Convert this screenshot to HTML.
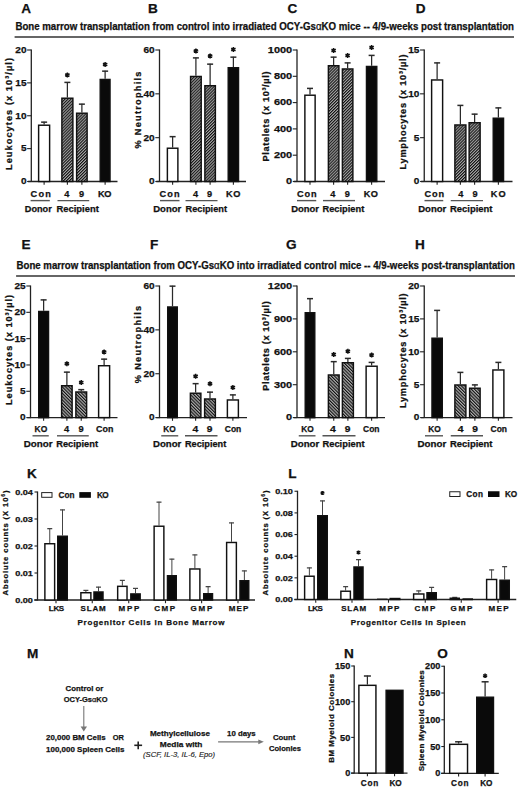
<!DOCTYPE html><html><head><meta charset="utf-8"><title>Figure</title><style>html,body{margin:0;padding:0;background:#fff;}svg{display:block;}text{font-family:"Liberation Sans", sans-serif;}</style></head><body>
<svg width="520" height="789" viewBox="0 0 520 789">
<defs><pattern id="h1" patternUnits="userSpaceOnUse" width="2.1" height="2.1" patternTransform="rotate(45)"><rect width="2.1" height="2.1" fill="#a8a8a8"/><rect width="1.05" height="2.1" fill="#111"/></pattern><pattern id="h2" patternUnits="userSpaceOnUse" width="2.3" height="2.3" patternTransform="rotate(-45)"><rect width="2.3" height="2.3" fill="#acacac"/><rect width="1.1" height="2.3" fill="#111"/></pattern></defs>
<rect width="520" height="789" fill="#fff"/>
<text x="21.2" y="13" font-size="13.6" font-weight="bold" fill="#111" stroke="#111" stroke-width="0.25">A</text>
<text x="148" y="13" font-size="13.6" font-weight="bold" fill="#111" stroke="#111" stroke-width="0.25">B</text>
<text x="287.5" y="13" font-size="13.6" font-weight="bold" fill="#111" stroke="#111" stroke-width="0.25">C</text>
<text x="415.8" y="13" font-size="13.6" font-weight="bold" fill="#111" stroke="#111" stroke-width="0.25">D</text>
<text x="21.5" y="249.2" font-size="13.6" font-weight="bold" fill="#111" stroke="#111" stroke-width="0.25">E</text>
<text x="150" y="249.2" font-size="13.6" font-weight="bold" fill="#111" stroke="#111" stroke-width="0.25">F</text>
<text x="286" y="249.2" font-size="13.6" font-weight="bold" fill="#111" stroke="#111" stroke-width="0.25">G</text>
<text x="415" y="249.2" font-size="13.6" font-weight="bold" fill="#111" stroke="#111" stroke-width="0.25">H</text>
<text x="27" y="478" font-size="13.6" font-weight="bold" fill="#111" stroke="#111" stroke-width="0.25">K</text>
<text x="288.3" y="478" font-size="13.6" font-weight="bold" fill="#111" stroke="#111" stroke-width="0.25">L</text>
<text x="27" y="658" font-size="13.6" font-weight="bold" fill="#111" stroke="#111" stroke-width="0.25">M</text>
<text x="344" y="657.7" font-size="13.6" font-weight="bold" fill="#111" stroke="#111" stroke-width="0.25">N</text>
<text x="437.2" y="657.8" font-size="13.6" font-weight="bold" fill="#111" stroke="#111" stroke-width="0.25">O</text>
<text x="15.4" y="30.1" font-size="10.1" font-weight="bold" fill="#111" textLength="498.6" lengthAdjust="spacingAndGlyphs" stroke="#111" stroke-width="0.25">Bone marrow transplantation from control into irradiated OCY-Gs<tspan font-weight="normal">α</tspan>KO mice -- 4/9-weeks post transplantation</text>
<line x1="14.6" y1="36.9" x2="514" y2="36.9" stroke="#333" stroke-width="1.5"/>
<text x="16.5" y="269" font-size="10.1" font-weight="bold" fill="#111" textLength="498.5" lengthAdjust="spacingAndGlyphs" stroke="#111" stroke-width="0.25">Bone marrow transplantation from OCY-Gs<tspan font-weight="normal">α</tspan>KO into irradiated control mice -- 4/9-weeks post-transplantation</text>
<line x1="16.1" y1="276" x2="515" y2="276" stroke="#333" stroke-width="1.5"/>
<line x1="31.3" y1="182" x2="31.3" y2="49.5" stroke="#222" stroke-width="1.3"/>
<line x1="27.1" y1="181.5" x2="31.3" y2="181.5" stroke="#222" stroke-width="1.1"/>
<text x="26.5" y="184.36" font-size="9.6" font-weight="bold" fill="#111" text-anchor="end" textLength="5.6" lengthAdjust="spacingAndGlyphs" stroke="#111" stroke-width="0.25">0</text>
<line x1="27.1" y1="148.62" x2="31.3" y2="148.62" stroke="#222" stroke-width="1.1"/>
<text x="26.5" y="151.48" font-size="9.6" font-weight="bold" fill="#111" text-anchor="end" textLength="5.6" lengthAdjust="spacingAndGlyphs" stroke="#111" stroke-width="0.25">5</text>
<line x1="27.1" y1="115.75" x2="31.3" y2="115.75" stroke="#222" stroke-width="1.1"/>
<text x="26.5" y="118.61" font-size="9.6" font-weight="bold" fill="#111" text-anchor="end" textLength="11.2" lengthAdjust="spacingAndGlyphs" stroke="#111" stroke-width="0.25">10</text>
<line x1="27.1" y1="82.88" x2="31.3" y2="82.88" stroke="#222" stroke-width="1.1"/>
<text x="26.5" y="85.73" font-size="9.6" font-weight="bold" fill="#111" text-anchor="end" textLength="11.2" lengthAdjust="spacingAndGlyphs" stroke="#111" stroke-width="0.25">15</text>
<line x1="27.1" y1="50" x2="31.3" y2="50" stroke="#222" stroke-width="1.1"/>
<text x="26.5" y="52.86" font-size="9.6" font-weight="bold" fill="#111" text-anchor="end" textLength="11.2" lengthAdjust="spacingAndGlyphs" stroke="#111" stroke-width="0.25">20</text>
<line x1="28.1" y1="181.5" x2="117.5" y2="181.5" stroke="#222" stroke-width="1.35"/>
<line x1="44.12" y1="181.5" x2="44.12" y2="184.7" stroke="#222" stroke-width="1.1"/>
<line x1="67.38" y1="181.5" x2="67.38" y2="184.7" stroke="#222" stroke-width="1.1"/>
<line x1="81.88" y1="181.5" x2="81.88" y2="184.7" stroke="#222" stroke-width="1.1"/>
<line x1="105.12" y1="181.5" x2="105.12" y2="184.7" stroke="#222" stroke-width="1.1"/>
<line x1="44.12" y1="124.5" x2="44.12" y2="121.75" stroke="#2a2a2a" stroke-width="1.25"/>
<line x1="41.12" y1="122.15" x2="47.12" y2="122.15" stroke="#2a2a2a" stroke-width="1.5"/>
<rect x="38.62" y="125.22" width="11" height="56.27" fill="#fff" stroke="#111" stroke-width="1.45"/>
<line x1="67.38" y1="97.5" x2="67.38" y2="82" stroke="#2a2a2a" stroke-width="1.25"/>
<line x1="64.38" y1="82.4" x2="70.38" y2="82.4" stroke="#2a2a2a" stroke-width="1.5"/>
<rect x="61.88" y="98.22" width="11" height="83.28" fill="url(#h1)" stroke="#111" stroke-width="1.45"/>
<path d="M67.38,72.5L67.38,77.5M65.21,73.75L69.54,76.25M65.21,76.25L69.54,73.75" stroke="#111" stroke-width="1.5" fill="none"/>
<line x1="81.88" y1="112.5" x2="81.88" y2="103.75" stroke="#2a2a2a" stroke-width="1.25"/>
<line x1="78.88" y1="104.15" x2="84.88" y2="104.15" stroke="#2a2a2a" stroke-width="1.5"/>
<rect x="76.62" y="113.22" width="10.5" height="68.28" fill="url(#h1)" stroke="#111" stroke-width="1.45"/>
<line x1="105.12" y1="78.75" x2="105.12" y2="70.75" stroke="#2a2a2a" stroke-width="1.25"/>
<line x1="102.12" y1="71.15" x2="108.12" y2="71.15" stroke="#2a2a2a" stroke-width="1.5"/>
<rect x="100.22" y="79.47" width="9.8" height="102.03" fill="#0a0a0a" stroke="#111" stroke-width="1.45"/>
<path d="M105.12,62L105.12,67M102.96,63.25L107.29,65.75M102.96,65.75L107.29,63.25" stroke="#111" stroke-width="1.5" fill="none"/>
<text x="40.7" y="196.6" font-size="9.2" font-weight="bold" fill="#111" text-anchor="middle" textLength="20.2" lengthAdjust="spacing" stroke="#111" stroke-width="0.25">Con</text>
<text x="66.7" y="196.6" font-size="9.2" font-weight="bold" fill="#111" text-anchor="middle" textLength="5.8" lengthAdjust="spacing" stroke="#111" stroke-width="0.25">4</text>
<text x="81.5" y="196.6" font-size="9.2" font-weight="bold" fill="#111" text-anchor="middle" textLength="5.7" lengthAdjust="spacing" stroke="#111" stroke-width="0.25">9</text>
<text x="104.7" y="196.6" font-size="9.2" font-weight="bold" fill="#111" text-anchor="middle" textLength="13.6" lengthAdjust="spacing" stroke="#111" stroke-width="0.25">KO</text>
<line x1="30.6" y1="200.6" x2="49.8" y2="200.6" stroke="#555" stroke-width="1.4"/>
<line x1="57.5" y1="200.6" x2="89.2" y2="200.6" stroke="#555" stroke-width="1.4"/>
<text x="24.8" y="211.7" font-size="9.2" font-weight="bold" fill="#111" textLength="26.9" lengthAdjust="spacingAndGlyphs" stroke="#111" stroke-width="0.25">Donor</text>
<text x="56.5" y="211.7" font-size="9.2" font-weight="bold" fill="#111" textLength="42.3" lengthAdjust="spacingAndGlyphs" stroke="#111" stroke-width="0.25">Recipient</text>
<text transform="translate(12.01,114) rotate(-90)" x="0" y="0" font-size="9.2" font-weight="bold" fill="#111" text-anchor="middle" stroke="#111" stroke-width="0.25" textLength="112" lengthAdjust="spacing">Leukocytes (x 10³/µl)</text>
<line x1="159.5" y1="182" x2="159.5" y2="49.5" stroke="#222" stroke-width="1.3"/>
<line x1="155.3" y1="181.5" x2="159.5" y2="181.5" stroke="#222" stroke-width="1.1"/>
<text x="154.7" y="184.36" font-size="9.6" font-weight="bold" fill="#111" text-anchor="end" textLength="5.6" lengthAdjust="spacingAndGlyphs" stroke="#111" stroke-width="0.25">0</text>
<line x1="155.3" y1="137.67" x2="159.5" y2="137.67" stroke="#222" stroke-width="1.1"/>
<text x="154.7" y="140.52" font-size="9.6" font-weight="bold" fill="#111" text-anchor="end" textLength="11.2" lengthAdjust="spacingAndGlyphs" stroke="#111" stroke-width="0.25">20</text>
<line x1="155.3" y1="93.83" x2="159.5" y2="93.83" stroke="#222" stroke-width="1.1"/>
<text x="154.7" y="96.69" font-size="9.6" font-weight="bold" fill="#111" text-anchor="end" textLength="11.2" lengthAdjust="spacingAndGlyphs" stroke="#111" stroke-width="0.25">40</text>
<line x1="155.3" y1="50" x2="159.5" y2="50" stroke="#222" stroke-width="1.1"/>
<text x="154.7" y="52.86" font-size="9.6" font-weight="bold" fill="#111" text-anchor="end" textLength="11.2" lengthAdjust="spacingAndGlyphs" stroke="#111" stroke-width="0.25">60</text>
<line x1="156.3" y1="181.5" x2="246" y2="181.5" stroke="#222" stroke-width="1.35"/>
<line x1="172.62" y1="181.5" x2="172.62" y2="184.7" stroke="#222" stroke-width="1.1"/>
<line x1="195.9" y1="181.5" x2="195.9" y2="184.7" stroke="#222" stroke-width="1.1"/>
<line x1="210.12" y1="181.5" x2="210.12" y2="184.7" stroke="#222" stroke-width="1.1"/>
<line x1="233.38" y1="181.5" x2="233.38" y2="184.7" stroke="#222" stroke-width="1.1"/>
<line x1="172.62" y1="147.5" x2="172.62" y2="136.25" stroke="#2a2a2a" stroke-width="1.25"/>
<line x1="169.62" y1="136.65" x2="175.62" y2="136.65" stroke="#2a2a2a" stroke-width="1.5"/>
<rect x="167.38" y="148.22" width="10.5" height="33.27" fill="#fff" stroke="#111" stroke-width="1.45"/>
<line x1="195.9" y1="75.75" x2="195.9" y2="57.5" stroke="#2a2a2a" stroke-width="1.25"/>
<line x1="192.9" y1="57.9" x2="198.9" y2="57.9" stroke="#2a2a2a" stroke-width="1.5"/>
<rect x="190.57" y="76.47" width="10.65" height="105.03" fill="url(#h1)" stroke="#111" stroke-width="1.45"/>
<path d="M195.9,48.5L195.9,53.5M193.73,49.75L198.07,52.25M193.73,52.25L198.07,49.75" stroke="#111" stroke-width="1.5" fill="none"/>
<line x1="210.12" y1="85" x2="210.12" y2="63.75" stroke="#2a2a2a" stroke-width="1.25"/>
<line x1="207.12" y1="64.15" x2="213.12" y2="64.15" stroke="#2a2a2a" stroke-width="1.5"/>
<rect x="204.88" y="85.72" width="10.5" height="95.78" fill="url(#h1)" stroke="#111" stroke-width="1.45"/>
<path d="M210.12,53.5L210.12,58.5M207.96,54.75L212.29,57.25M207.96,57.25L212.29,54.75" stroke="#111" stroke-width="1.5" fill="none"/>
<line x1="233.38" y1="67" x2="233.38" y2="56.75" stroke="#2a2a2a" stroke-width="1.25"/>
<line x1="230.38" y1="57.15" x2="236.38" y2="57.15" stroke="#2a2a2a" stroke-width="1.5"/>
<rect x="228.22" y="67.72" width="10.3" height="113.78" fill="#0a0a0a" stroke="#111" stroke-width="1.45"/>
<path d="M233.38,47L233.38,52M231.21,48.25L235.54,50.75M231.21,50.75L235.54,48.25" stroke="#111" stroke-width="1.5" fill="none"/>
<text x="169.5" y="196.6" font-size="9.2" font-weight="bold" fill="#111" text-anchor="middle" textLength="20" lengthAdjust="spacing" stroke="#111" stroke-width="0.25">Con</text>
<text x="195.5" y="196.6" font-size="9.2" font-weight="bold" fill="#111" text-anchor="middle" textLength="5.8" lengthAdjust="spacing" stroke="#111" stroke-width="0.25">4</text>
<text x="209.5" y="196.6" font-size="9.2" font-weight="bold" fill="#111" text-anchor="middle" textLength="5.7" lengthAdjust="spacing" stroke="#111" stroke-width="0.25">9</text>
<text x="233.3" y="196.6" font-size="9.2" font-weight="bold" fill="#111" text-anchor="middle" textLength="14.4" lengthAdjust="spacing" stroke="#111" stroke-width="0.25">KO</text>
<line x1="160" y1="200.6" x2="179.5" y2="200.6" stroke="#555" stroke-width="1.4"/>
<line x1="185.5" y1="200.6" x2="217.5" y2="200.6" stroke="#555" stroke-width="1.4"/>
<text x="153.25" y="211.7" font-size="9.2" font-weight="bold" fill="#111" textLength="28" lengthAdjust="spacingAndGlyphs" stroke="#111" stroke-width="0.25">Donor</text>
<text x="185.5" y="211.7" font-size="9.2" font-weight="bold" fill="#111" textLength="41.5" lengthAdjust="spacingAndGlyphs" stroke="#111" stroke-width="0.25">Recipient</text>
<text transform="translate(141.01,110) rotate(-90)" x="0" y="0" font-size="9.2" font-weight="bold" fill="#111" text-anchor="middle" stroke="#111" stroke-width="0.25" textLength="77" lengthAdjust="spacing">% Neutrophils</text>
<line x1="297" y1="182" x2="297" y2="49.5" stroke="#222" stroke-width="1.3"/>
<line x1="292.8" y1="181.5" x2="297" y2="181.5" stroke="#222" stroke-width="1.1"/>
<text x="292.2" y="184.36" font-size="9.6" font-weight="bold" fill="#111" text-anchor="end" textLength="6.1" lengthAdjust="spacingAndGlyphs" stroke="#111" stroke-width="0.25">0</text>
<line x1="292.8" y1="155.2" x2="297" y2="155.2" stroke="#222" stroke-width="1.1"/>
<text x="292.2" y="158.06" font-size="9.6" font-weight="bold" fill="#111" text-anchor="end" textLength="18.3" lengthAdjust="spacingAndGlyphs" stroke="#111" stroke-width="0.25">200</text>
<line x1="292.8" y1="128.9" x2="297" y2="128.9" stroke="#222" stroke-width="1.1"/>
<text x="292.2" y="131.76" font-size="9.6" font-weight="bold" fill="#111" text-anchor="end" textLength="18.3" lengthAdjust="spacingAndGlyphs" stroke="#111" stroke-width="0.25">400</text>
<line x1="292.8" y1="102.6" x2="297" y2="102.6" stroke="#222" stroke-width="1.1"/>
<text x="292.2" y="105.46" font-size="9.6" font-weight="bold" fill="#111" text-anchor="end" textLength="18.3" lengthAdjust="spacingAndGlyphs" stroke="#111" stroke-width="0.25">600</text>
<line x1="292.8" y1="76.3" x2="297" y2="76.3" stroke="#222" stroke-width="1.1"/>
<text x="292.2" y="79.16" font-size="9.6" font-weight="bold" fill="#111" text-anchor="end" textLength="18.3" lengthAdjust="spacingAndGlyphs" stroke="#111" stroke-width="0.25">800</text>
<line x1="292.8" y1="50" x2="297" y2="50" stroke="#222" stroke-width="1.1"/>
<text x="292.2" y="52.86" font-size="9.6" font-weight="bold" fill="#111" text-anchor="end" textLength="24.4" lengthAdjust="spacingAndGlyphs" stroke="#111" stroke-width="0.25">1000</text>
<line x1="293.8" y1="181.5" x2="385" y2="181.5" stroke="#222" stroke-width="1.35"/>
<line x1="310" y1="181.5" x2="310" y2="184.7" stroke="#222" stroke-width="1.1"/>
<line x1="333.62" y1="181.5" x2="333.62" y2="184.7" stroke="#222" stroke-width="1.1"/>
<line x1="347.62" y1="181.5" x2="347.62" y2="184.7" stroke="#222" stroke-width="1.1"/>
<line x1="371.62" y1="181.5" x2="371.62" y2="184.7" stroke="#222" stroke-width="1.1"/>
<line x1="310" y1="94.5" x2="310" y2="88" stroke="#2a2a2a" stroke-width="1.25"/>
<line x1="307" y1="88.4" x2="313" y2="88.4" stroke="#2a2a2a" stroke-width="1.5"/>
<rect x="304.88" y="95.22" width="10.25" height="86.28" fill="#fff" stroke="#111" stroke-width="1.45"/>
<line x1="333.62" y1="65" x2="333.62" y2="56.75" stroke="#2a2a2a" stroke-width="1.25"/>
<line x1="330.62" y1="57.15" x2="336.62" y2="57.15" stroke="#2a2a2a" stroke-width="1.5"/>
<rect x="328.38" y="65.72" width="10.5" height="115.78" fill="url(#h1)" stroke="#111" stroke-width="1.45"/>
<path d="M333.62,48L333.62,53M331.46,49.25L335.79,51.75M331.46,51.75L335.79,49.25" stroke="#111" stroke-width="1.5" fill="none"/>
<line x1="347.62" y1="68.25" x2="347.62" y2="62.5" stroke="#2a2a2a" stroke-width="1.25"/>
<line x1="344.62" y1="62.9" x2="350.62" y2="62.9" stroke="#2a2a2a" stroke-width="1.5"/>
<rect x="342.38" y="68.97" width="10.5" height="112.53" fill="url(#h1)" stroke="#111" stroke-width="1.45"/>
<path d="M347.62,53L347.62,58M345.46,54.25L349.79,56.75M345.46,56.75L349.79,54.25" stroke="#111" stroke-width="1.5" fill="none"/>
<line x1="371.62" y1="65.75" x2="371.62" y2="55" stroke="#2a2a2a" stroke-width="1.25"/>
<line x1="368.62" y1="55.4" x2="374.62" y2="55.4" stroke="#2a2a2a" stroke-width="1.5"/>
<rect x="366.48" y="66.47" width="10.3" height="115.03" fill="#0a0a0a" stroke="#111" stroke-width="1.45"/>
<path d="M371.62,45L371.62,50M369.46,46.25L373.79,48.75M369.46,48.75L373.79,46.25" stroke="#111" stroke-width="1.5" fill="none"/>
<text x="306.75" y="196.6" font-size="9.2" font-weight="bold" fill="#111" text-anchor="middle" textLength="19.5" lengthAdjust="spacing" stroke="#111" stroke-width="0.25">Con</text>
<text x="332.8" y="196.6" font-size="9.2" font-weight="bold" fill="#111" text-anchor="middle" textLength="5.2" lengthAdjust="spacing" stroke="#111" stroke-width="0.25">4</text>
<text x="347.4" y="196.6" font-size="9.2" font-weight="bold" fill="#111" text-anchor="middle" textLength="5.2" lengthAdjust="spacing" stroke="#111" stroke-width="0.25">9</text>
<text x="370.8" y="196.6" font-size="9.2" font-weight="bold" fill="#111" text-anchor="middle" textLength="14.2" lengthAdjust="spacing" stroke="#111" stroke-width="0.25">KO</text>
<line x1="297" y1="200.6" x2="316.25" y2="200.6" stroke="#555" stroke-width="1.4"/>
<line x1="323" y1="200.6" x2="355" y2="200.6" stroke="#555" stroke-width="1.4"/>
<text x="291.25" y="211.7" font-size="9.2" font-weight="bold" fill="#111" textLength="27.75" lengthAdjust="spacingAndGlyphs" stroke="#111" stroke-width="0.25">Donor</text>
<text x="322.5" y="211.7" font-size="9.2" font-weight="bold" fill="#111" textLength="41.75" lengthAdjust="spacingAndGlyphs" stroke="#111" stroke-width="0.25">Recipient</text>
<text transform="translate(268.71,116.5) rotate(-90)" x="0" y="0" font-size="9.2" font-weight="bold" fill="#111" text-anchor="middle" stroke="#111" stroke-width="0.25" textLength="90" lengthAdjust="spacing">Platelets (x 10³/µl)</text>
<line x1="424.25" y1="182" x2="424.25" y2="49.5" stroke="#222" stroke-width="1.3"/>
<line x1="420.05" y1="181.5" x2="424.25" y2="181.5" stroke="#222" stroke-width="1.1"/>
<text x="419.45" y="184.36" font-size="9.6" font-weight="bold" fill="#111" text-anchor="end" textLength="5.6" lengthAdjust="spacingAndGlyphs" stroke="#111" stroke-width="0.25">0</text>
<line x1="420.05" y1="137.67" x2="424.25" y2="137.67" stroke="#222" stroke-width="1.1"/>
<text x="419.45" y="140.52" font-size="9.6" font-weight="bold" fill="#111" text-anchor="end" textLength="5.6" lengthAdjust="spacingAndGlyphs" stroke="#111" stroke-width="0.25">5</text>
<line x1="420.05" y1="93.83" x2="424.25" y2="93.83" stroke="#222" stroke-width="1.1"/>
<text x="419.45" y="96.69" font-size="9.6" font-weight="bold" fill="#111" text-anchor="end" textLength="11.2" lengthAdjust="spacingAndGlyphs" stroke="#111" stroke-width="0.25">10</text>
<line x1="420.05" y1="50" x2="424.25" y2="50" stroke="#222" stroke-width="1.1"/>
<text x="419.45" y="52.86" font-size="9.6" font-weight="bold" fill="#111" text-anchor="end" textLength="11.2" lengthAdjust="spacingAndGlyphs" stroke="#111" stroke-width="0.25">15</text>
<line x1="421.05" y1="181.5" x2="512.5" y2="181.5" stroke="#222" stroke-width="1.35"/>
<line x1="437.12" y1="181.5" x2="437.12" y2="184.7" stroke="#222" stroke-width="1.1"/>
<line x1="460.38" y1="181.5" x2="460.38" y2="184.7" stroke="#222" stroke-width="1.1"/>
<line x1="474.62" y1="181.5" x2="474.62" y2="184.7" stroke="#222" stroke-width="1.1"/>
<line x1="498.38" y1="181.5" x2="498.38" y2="184.7" stroke="#222" stroke-width="1.1"/>
<line x1="437.12" y1="79.25" x2="437.12" y2="62.5" stroke="#2a2a2a" stroke-width="1.25"/>
<line x1="434.12" y1="62.9" x2="440.12" y2="62.9" stroke="#2a2a2a" stroke-width="1.5"/>
<rect x="431.62" y="79.97" width="11" height="101.53" fill="#fff" stroke="#111" stroke-width="1.45"/>
<line x1="460.38" y1="124.25" x2="460.38" y2="105" stroke="#2a2a2a" stroke-width="1.25"/>
<line x1="457.38" y1="105.4" x2="463.38" y2="105.4" stroke="#2a2a2a" stroke-width="1.5"/>
<rect x="454.88" y="124.97" width="11" height="56.52" fill="url(#h1)" stroke="#111" stroke-width="1.45"/>
<line x1="474.62" y1="122" x2="474.62" y2="113.75" stroke="#2a2a2a" stroke-width="1.25"/>
<line x1="471.62" y1="114.15" x2="477.62" y2="114.15" stroke="#2a2a2a" stroke-width="1.5"/>
<rect x="469.12" y="122.72" width="11" height="58.77" fill="url(#h1)" stroke="#111" stroke-width="1.45"/>
<line x1="498.38" y1="117.5" x2="498.38" y2="107.5" stroke="#2a2a2a" stroke-width="1.25"/>
<line x1="495.38" y1="107.9" x2="501.38" y2="107.9" stroke="#2a2a2a" stroke-width="1.5"/>
<rect x="493.23" y="118.22" width="10.3" height="63.27" fill="#0a0a0a" stroke="#111" stroke-width="1.45"/>
<text x="434.25" y="196.6" font-size="9.2" font-weight="bold" fill="#111" text-anchor="middle" textLength="19.5" lengthAdjust="spacing" stroke="#111" stroke-width="0.25">Con</text>
<text x="460.75" y="196.6" font-size="9.2" font-weight="bold" fill="#111" text-anchor="middle" textLength="5.8" lengthAdjust="spacing" stroke="#111" stroke-width="0.25">4</text>
<text x="475" y="196.6" font-size="9.2" font-weight="bold" fill="#111" text-anchor="middle" textLength="5.7" lengthAdjust="spacing" stroke="#111" stroke-width="0.25">9</text>
<text x="498.2" y="196.6" font-size="9.2" font-weight="bold" fill="#111" text-anchor="middle" textLength="14.8" lengthAdjust="spacing" stroke="#111" stroke-width="0.25">KO</text>
<line x1="424.5" y1="200.6" x2="443.25" y2="200.6" stroke="#555" stroke-width="1.4"/>
<line x1="450.75" y1="200.6" x2="483" y2="200.6" stroke="#555" stroke-width="1.4"/>
<text x="418.25" y="211.7" font-size="9.2" font-weight="bold" fill="#111" textLength="28" lengthAdjust="spacingAndGlyphs" stroke="#111" stroke-width="0.25">Donor</text>
<text x="450" y="211.7" font-size="9.2" font-weight="bold" fill="#111" textLength="42.5" lengthAdjust="spacingAndGlyphs" stroke="#111" stroke-width="0.25">Recipient</text>
<text transform="translate(406.31,112) rotate(-90)" x="0" y="0" font-size="9.2" font-weight="bold" fill="#111" text-anchor="middle" stroke="#111" stroke-width="0.25" textLength="115" lengthAdjust="spacing">Lymphocytes (x 10³/µl)</text>
<line x1="30.5" y1="418.1" x2="30.5" y2="285.5" stroke="#222" stroke-width="1.3"/>
<line x1="26.3" y1="417.6" x2="30.5" y2="417.6" stroke="#222" stroke-width="1.1"/>
<text x="25.7" y="420.46" font-size="9.6" font-weight="bold" fill="#111" text-anchor="end" textLength="5.6" lengthAdjust="spacingAndGlyphs" stroke="#111" stroke-width="0.25">0</text>
<line x1="26.3" y1="391.28" x2="30.5" y2="391.28" stroke="#222" stroke-width="1.1"/>
<text x="25.7" y="394.14" font-size="9.6" font-weight="bold" fill="#111" text-anchor="end" textLength="5.6" lengthAdjust="spacingAndGlyphs" stroke="#111" stroke-width="0.25">5</text>
<line x1="26.3" y1="364.96" x2="30.5" y2="364.96" stroke="#222" stroke-width="1.1"/>
<text x="25.7" y="367.82" font-size="9.6" font-weight="bold" fill="#111" text-anchor="end" textLength="11.2" lengthAdjust="spacingAndGlyphs" stroke="#111" stroke-width="0.25">10</text>
<line x1="26.3" y1="338.64" x2="30.5" y2="338.64" stroke="#222" stroke-width="1.1"/>
<text x="25.7" y="341.5" font-size="9.6" font-weight="bold" fill="#111" text-anchor="end" textLength="11.2" lengthAdjust="spacingAndGlyphs" stroke="#111" stroke-width="0.25">15</text>
<line x1="26.3" y1="312.32" x2="30.5" y2="312.32" stroke="#222" stroke-width="1.1"/>
<text x="25.7" y="315.18" font-size="9.6" font-weight="bold" fill="#111" text-anchor="end" textLength="11.2" lengthAdjust="spacingAndGlyphs" stroke="#111" stroke-width="0.25">20</text>
<line x1="26.3" y1="286" x2="30.5" y2="286" stroke="#222" stroke-width="1.1"/>
<text x="25.7" y="288.86" font-size="9.6" font-weight="bold" fill="#111" text-anchor="end" textLength="11.2" lengthAdjust="spacingAndGlyphs" stroke="#111" stroke-width="0.25">25</text>
<line x1="27.3" y1="417.6" x2="117.5" y2="417.6" stroke="#222" stroke-width="1.35"/>
<line x1="43.62" y1="417.6" x2="43.62" y2="420.8" stroke="#222" stroke-width="1.1"/>
<line x1="66.88" y1="417.6" x2="66.88" y2="420.8" stroke="#222" stroke-width="1.1"/>
<line x1="81.25" y1="417.6" x2="81.25" y2="420.8" stroke="#222" stroke-width="1.1"/>
<line x1="104.12" y1="417.6" x2="104.12" y2="420.8" stroke="#222" stroke-width="1.1"/>
<line x1="43.62" y1="310.75" x2="43.62" y2="299.5" stroke="#2a2a2a" stroke-width="1.25"/>
<line x1="40.62" y1="299.9" x2="46.62" y2="299.9" stroke="#2a2a2a" stroke-width="1.5"/>
<rect x="38.73" y="311.48" width="9.8" height="106.13" fill="#0a0a0a" stroke="#111" stroke-width="1.45"/>
<line x1="66.88" y1="385" x2="66.88" y2="371.75" stroke="#2a2a2a" stroke-width="1.25"/>
<line x1="63.88" y1="372.15" x2="69.88" y2="372.15" stroke="#2a2a2a" stroke-width="1.5"/>
<rect x="61.62" y="385.73" width="10.5" height="31.88" fill="url(#h2)" stroke="#111" stroke-width="1.45"/>
<path d="M66.88,361.25L66.88,366.25M64.71,362.5L69.04,365M64.71,365L69.04,362.5" stroke="#111" stroke-width="1.5" fill="none"/>
<line x1="81.25" y1="391.25" x2="81.25" y2="389.25" stroke="#2a2a2a" stroke-width="1.25"/>
<line x1="78.25" y1="389.65" x2="84.25" y2="389.65" stroke="#2a2a2a" stroke-width="1.5"/>
<rect x="75.88" y="391.98" width="10.75" height="25.63" fill="url(#h2)" stroke="#111" stroke-width="1.45"/>
<path d="M81.25,380L81.25,385M79.08,381.25L83.42,383.75M79.08,383.75L83.42,381.25" stroke="#111" stroke-width="1.5" fill="none"/>
<line x1="104.12" y1="365" x2="104.12" y2="358.75" stroke="#2a2a2a" stroke-width="1.25"/>
<line x1="101.12" y1="359.15" x2="107.12" y2="359.15" stroke="#2a2a2a" stroke-width="1.5"/>
<rect x="98.62" y="365.73" width="11" height="51.88" fill="#fff" stroke="#111" stroke-width="1.45"/>
<path d="M104.12,349.5L104.12,354.5M101.96,350.75L106.29,353.25M101.96,353.25L106.29,350.75" stroke="#111" stroke-width="1.5" fill="none"/>
<text x="40.9" y="431.5" font-size="9.2" font-weight="bold" fill="#111" text-anchor="middle" textLength="12.7" lengthAdjust="spacingAndGlyphs" stroke="#111" stroke-width="0.25">KO</text>
<text x="66.6" y="431.5" font-size="9.2" font-weight="bold" fill="#111" text-anchor="middle" textLength="5.2" lengthAdjust="spacingAndGlyphs" stroke="#111" stroke-width="0.25">4</text>
<text x="81" y="431.5" font-size="9.2" font-weight="bold" fill="#111" text-anchor="middle" textLength="5.2" lengthAdjust="spacingAndGlyphs" stroke="#111" stroke-width="0.25">9</text>
<text x="104.7" y="431.5" font-size="9.2" font-weight="bold" fill="#111" text-anchor="middle" textLength="17.3" lengthAdjust="spacingAndGlyphs" stroke="#111" stroke-width="0.25">Con</text>
<line x1="32.5" y1="435.8" x2="48.75" y2="435.8" stroke="#555" stroke-width="1.4"/>
<line x1="57" y1="435.8" x2="88.75" y2="435.8" stroke="#555" stroke-width="1.4"/>
<text x="23.75" y="447" font-size="9.2" font-weight="bold" fill="#111" textLength="28.75" lengthAdjust="spacingAndGlyphs" stroke="#111" stroke-width="0.25">Donor</text>
<text x="56.25" y="447" font-size="9.2" font-weight="bold" fill="#111" textLength="41.75" lengthAdjust="spacingAndGlyphs" stroke="#111" stroke-width="0.25">Recipient</text>
<text transform="translate(12.01,350) rotate(-90)" x="0" y="0" font-size="9.2" font-weight="bold" fill="#111" text-anchor="middle" stroke="#111" stroke-width="0.25" textLength="110" lengthAdjust="spacing">Leukocytes (x 10³/µl)</text>
<line x1="159.5" y1="418.1" x2="159.5" y2="285.5" stroke="#222" stroke-width="1.3"/>
<line x1="155.3" y1="417.6" x2="159.5" y2="417.6" stroke="#222" stroke-width="1.1"/>
<text x="154.7" y="420.46" font-size="9.6" font-weight="bold" fill="#111" text-anchor="end" textLength="5.6" lengthAdjust="spacingAndGlyphs" stroke="#111" stroke-width="0.25">0</text>
<line x1="155.3" y1="373.73" x2="159.5" y2="373.73" stroke="#222" stroke-width="1.1"/>
<text x="154.7" y="376.59" font-size="9.6" font-weight="bold" fill="#111" text-anchor="end" textLength="11.2" lengthAdjust="spacingAndGlyphs" stroke="#111" stroke-width="0.25">20</text>
<line x1="155.3" y1="329.87" x2="159.5" y2="329.87" stroke="#222" stroke-width="1.1"/>
<text x="154.7" y="332.72" font-size="9.6" font-weight="bold" fill="#111" text-anchor="end" textLength="11.2" lengthAdjust="spacingAndGlyphs" stroke="#111" stroke-width="0.25">40</text>
<line x1="155.3" y1="286" x2="159.5" y2="286" stroke="#222" stroke-width="1.1"/>
<text x="154.7" y="288.86" font-size="9.6" font-weight="bold" fill="#111" text-anchor="end" textLength="11.2" lengthAdjust="spacingAndGlyphs" stroke="#111" stroke-width="0.25">60</text>
<line x1="156.3" y1="417.6" x2="247" y2="417.6" stroke="#222" stroke-width="1.35"/>
<line x1="172.5" y1="417.6" x2="172.5" y2="420.8" stroke="#222" stroke-width="1.1"/>
<line x1="195.62" y1="417.6" x2="195.62" y2="420.8" stroke="#222" stroke-width="1.1"/>
<line x1="210" y1="417.6" x2="210" y2="420.8" stroke="#222" stroke-width="1.1"/>
<line x1="232.88" y1="417.6" x2="232.88" y2="420.8" stroke="#222" stroke-width="1.1"/>
<line x1="172.5" y1="306.25" x2="172.5" y2="285.75" stroke="#2a2a2a" stroke-width="1.25"/>
<line x1="169.5" y1="286.15" x2="175.5" y2="286.15" stroke="#2a2a2a" stroke-width="1.5"/>
<rect x="167.72" y="306.98" width="9.55" height="110.63" fill="#0a0a0a" stroke="#111" stroke-width="1.45"/>
<line x1="195.62" y1="392.5" x2="195.62" y2="383.25" stroke="#2a2a2a" stroke-width="1.25"/>
<line x1="192.62" y1="383.65" x2="198.62" y2="383.65" stroke="#2a2a2a" stroke-width="1.5"/>
<rect x="190.38" y="393.23" width="10.5" height="24.38" fill="url(#h2)" stroke="#111" stroke-width="1.45"/>
<path d="M195.62,373.75L195.62,378.75M193.46,375L197.79,377.5M193.46,377.5L197.79,375" stroke="#111" stroke-width="1.5" fill="none"/>
<line x1="210" y1="398.25" x2="210" y2="391.75" stroke="#2a2a2a" stroke-width="1.25"/>
<line x1="207" y1="392.15" x2="213" y2="392.15" stroke="#2a2a2a" stroke-width="1.5"/>
<rect x="204.62" y="398.98" width="10.75" height="18.63" fill="url(#h2)" stroke="#111" stroke-width="1.45"/>
<path d="M210,381.25L210,386.25M207.83,382.5L212.17,385M207.83,385L212.17,382.5" stroke="#111" stroke-width="1.5" fill="none"/>
<line x1="232.88" y1="399.25" x2="232.88" y2="394.5" stroke="#2a2a2a" stroke-width="1.25"/>
<line x1="229.88" y1="394.9" x2="235.88" y2="394.9" stroke="#2a2a2a" stroke-width="1.5"/>
<rect x="227.38" y="399.98" width="11" height="17.63" fill="#fff" stroke="#111" stroke-width="1.45"/>
<path d="M232.88,385L232.88,390M230.71,386.25L235.04,388.75M230.71,388.75L235.04,386.25" stroke="#111" stroke-width="1.5" fill="none"/>
<text x="169.5" y="431.5" font-size="9.2" font-weight="bold" fill="#111" text-anchor="middle" textLength="12.5" lengthAdjust="spacingAndGlyphs" stroke="#111" stroke-width="0.25">KO</text>
<text x="195.5" y="431.5" font-size="9.2" font-weight="bold" fill="#111" text-anchor="middle" textLength="5.8" lengthAdjust="spacingAndGlyphs" stroke="#111" stroke-width="0.25">4</text>
<text x="209.5" y="431.5" font-size="9.2" font-weight="bold" fill="#111" text-anchor="middle" textLength="5.7" lengthAdjust="spacingAndGlyphs" stroke="#111" stroke-width="0.25">9</text>
<text x="233" y="431.5" font-size="9.2" font-weight="bold" fill="#111" text-anchor="middle" textLength="16.5" lengthAdjust="spacingAndGlyphs" stroke="#111" stroke-width="0.25">Con</text>
<line x1="161.25" y1="435.8" x2="178.25" y2="435.8" stroke="#555" stroke-width="1.4"/>
<line x1="185" y1="435.8" x2="217.5" y2="435.8" stroke="#555" stroke-width="1.4"/>
<text x="153" y="447" font-size="9.2" font-weight="bold" fill="#111" textLength="28.25" lengthAdjust="spacingAndGlyphs" stroke="#111" stroke-width="0.25">Donor</text>
<text x="185" y="447" font-size="9.2" font-weight="bold" fill="#111" textLength="41.25" lengthAdjust="spacingAndGlyphs" stroke="#111" stroke-width="0.25">Recipient</text>
<text transform="translate(141.01,344.5) rotate(-90)" x="0" y="0" font-size="9.2" font-weight="bold" fill="#111" text-anchor="middle" stroke="#111" stroke-width="0.25" textLength="77.3" lengthAdjust="spacing">% Neutrophils</text>
<line x1="297" y1="418.1" x2="297" y2="285.5" stroke="#222" stroke-width="1.3"/>
<line x1="292.8" y1="417.6" x2="297" y2="417.6" stroke="#222" stroke-width="1.1"/>
<text x="292.2" y="420.46" font-size="9.6" font-weight="bold" fill="#111" text-anchor="end" textLength="6.1" lengthAdjust="spacingAndGlyphs" stroke="#111" stroke-width="0.25">0</text>
<line x1="292.8" y1="384.7" x2="297" y2="384.7" stroke="#222" stroke-width="1.1"/>
<text x="292.2" y="387.56" font-size="9.6" font-weight="bold" fill="#111" text-anchor="end" textLength="18.3" lengthAdjust="spacingAndGlyphs" stroke="#111" stroke-width="0.25">300</text>
<line x1="292.8" y1="351.8" x2="297" y2="351.8" stroke="#222" stroke-width="1.1"/>
<text x="292.2" y="354.66" font-size="9.6" font-weight="bold" fill="#111" text-anchor="end" textLength="18.3" lengthAdjust="spacingAndGlyphs" stroke="#111" stroke-width="0.25">600</text>
<line x1="292.8" y1="318.9" x2="297" y2="318.9" stroke="#222" stroke-width="1.1"/>
<text x="292.2" y="321.76" font-size="9.6" font-weight="bold" fill="#111" text-anchor="end" textLength="18.3" lengthAdjust="spacingAndGlyphs" stroke="#111" stroke-width="0.25">900</text>
<line x1="292.8" y1="286" x2="297" y2="286" stroke="#222" stroke-width="1.1"/>
<text x="292.2" y="288.86" font-size="9.6" font-weight="bold" fill="#111" text-anchor="end" textLength="24.4" lengthAdjust="spacingAndGlyphs" stroke="#111" stroke-width="0.25">1200</text>
<line x1="293.8" y1="417.6" x2="385" y2="417.6" stroke="#222" stroke-width="1.35"/>
<line x1="310" y1="417.6" x2="310" y2="420.8" stroke="#222" stroke-width="1.1"/>
<line x1="333.75" y1="417.6" x2="333.75" y2="420.8" stroke="#222" stroke-width="1.1"/>
<line x1="347.88" y1="417.6" x2="347.88" y2="420.8" stroke="#222" stroke-width="1.1"/>
<line x1="371.62" y1="417.6" x2="371.62" y2="420.8" stroke="#222" stroke-width="1.1"/>
<line x1="310" y1="312" x2="310" y2="298.25" stroke="#2a2a2a" stroke-width="1.25"/>
<line x1="307" y1="298.65" x2="313" y2="298.65" stroke="#2a2a2a" stroke-width="1.5"/>
<rect x="305.23" y="312.73" width="9.55" height="104.88" fill="#0a0a0a" stroke="#111" stroke-width="1.45"/>
<line x1="333.75" y1="374.25" x2="333.75" y2="361.25" stroke="#2a2a2a" stroke-width="1.25"/>
<line x1="330.75" y1="361.65" x2="336.75" y2="361.65" stroke="#2a2a2a" stroke-width="1.5"/>
<rect x="328.38" y="374.98" width="10.75" height="42.63" fill="url(#h2)" stroke="#111" stroke-width="1.45"/>
<path d="M333.75,352L333.75,357M331.58,353.25L335.92,355.75M331.58,355.75L335.92,353.25" stroke="#111" stroke-width="1.5" fill="none"/>
<line x1="347.88" y1="362" x2="347.88" y2="358" stroke="#2a2a2a" stroke-width="1.25"/>
<line x1="344.88" y1="358.4" x2="350.88" y2="358.4" stroke="#2a2a2a" stroke-width="1.5"/>
<rect x="342.38" y="362.73" width="11" height="54.88" fill="url(#h2)" stroke="#111" stroke-width="1.45"/>
<path d="M347.88,348.75L347.88,353.75M345.71,350L350.04,352.5M345.71,352.5L350.04,350" stroke="#111" stroke-width="1.5" fill="none"/>
<line x1="371.62" y1="365.5" x2="371.62" y2="362" stroke="#2a2a2a" stroke-width="1.25"/>
<line x1="368.62" y1="362.4" x2="374.62" y2="362.4" stroke="#2a2a2a" stroke-width="1.5"/>
<rect x="366.12" y="366.23" width="11" height="51.38" fill="#fff" stroke="#111" stroke-width="1.45"/>
<path d="M371.62,352.5L371.62,357.5M369.46,353.75L373.79,356.25M369.46,356.25L373.79,353.75" stroke="#111" stroke-width="1.5" fill="none"/>
<text x="307.5" y="431.5" font-size="9.2" font-weight="bold" fill="#111" text-anchor="middle" textLength="12.5" lengthAdjust="spacingAndGlyphs" stroke="#111" stroke-width="0.25">KO</text>
<text x="333" y="431.5" font-size="9.2" font-weight="bold" fill="#111" text-anchor="middle" textLength="5.8" lengthAdjust="spacingAndGlyphs" stroke="#111" stroke-width="0.25">4</text>
<text x="347.5" y="431.5" font-size="9.2" font-weight="bold" fill="#111" text-anchor="middle" textLength="5.7" lengthAdjust="spacingAndGlyphs" stroke="#111" stroke-width="0.25">9</text>
<text x="371.25" y="431.5" font-size="9.2" font-weight="bold" fill="#111" text-anchor="middle" textLength="16.5" lengthAdjust="spacingAndGlyphs" stroke="#111" stroke-width="0.25">Con</text>
<line x1="298.75" y1="435.8" x2="315.5" y2="435.8" stroke="#555" stroke-width="1.4"/>
<line x1="322.5" y1="435.8" x2="355.5" y2="435.8" stroke="#555" stroke-width="1.4"/>
<text x="290.75" y="447" font-size="9.2" font-weight="bold" fill="#111" textLength="28.5" lengthAdjust="spacingAndGlyphs" stroke="#111" stroke-width="0.25">Donor</text>
<text x="322.5" y="447" font-size="9.2" font-weight="bold" fill="#111" textLength="42" lengthAdjust="spacingAndGlyphs" stroke="#111" stroke-width="0.25">Recipient</text>
<text transform="translate(268.71,346) rotate(-90)" x="0" y="0" font-size="9.2" font-weight="bold" fill="#111" text-anchor="middle" stroke="#111" stroke-width="0.25" textLength="89.5" lengthAdjust="spacing">Platelets (x 10³/µl)</text>
<line x1="424.25" y1="418.1" x2="424.25" y2="285.5" stroke="#222" stroke-width="1.3"/>
<line x1="420.05" y1="417.6" x2="424.25" y2="417.6" stroke="#222" stroke-width="1.1"/>
<text x="419.45" y="420.46" font-size="9.6" font-weight="bold" fill="#111" text-anchor="end" textLength="5.6" lengthAdjust="spacingAndGlyphs" stroke="#111" stroke-width="0.25">0</text>
<line x1="420.05" y1="384.7" x2="424.25" y2="384.7" stroke="#222" stroke-width="1.1"/>
<text x="419.45" y="387.56" font-size="9.6" font-weight="bold" fill="#111" text-anchor="end" textLength="5.6" lengthAdjust="spacingAndGlyphs" stroke="#111" stroke-width="0.25">5</text>
<line x1="420.05" y1="351.8" x2="424.25" y2="351.8" stroke="#222" stroke-width="1.1"/>
<text x="419.45" y="354.66" font-size="9.6" font-weight="bold" fill="#111" text-anchor="end" textLength="11.2" lengthAdjust="spacingAndGlyphs" stroke="#111" stroke-width="0.25">10</text>
<line x1="420.05" y1="318.9" x2="424.25" y2="318.9" stroke="#222" stroke-width="1.1"/>
<text x="419.45" y="321.76" font-size="9.6" font-weight="bold" fill="#111" text-anchor="end" textLength="11.2" lengthAdjust="spacingAndGlyphs" stroke="#111" stroke-width="0.25">15</text>
<line x1="420.05" y1="286" x2="424.25" y2="286" stroke="#222" stroke-width="1.1"/>
<text x="419.45" y="288.86" font-size="9.6" font-weight="bold" fill="#111" text-anchor="end" textLength="11.2" lengthAdjust="spacingAndGlyphs" stroke="#111" stroke-width="0.25">20</text>
<line x1="421.05" y1="417.6" x2="512.5" y2="417.6" stroke="#222" stroke-width="1.35"/>
<line x1="437.12" y1="417.6" x2="437.12" y2="420.8" stroke="#222" stroke-width="1.1"/>
<line x1="460.38" y1="417.6" x2="460.38" y2="420.8" stroke="#222" stroke-width="1.1"/>
<line x1="474.88" y1="417.6" x2="474.88" y2="420.8" stroke="#222" stroke-width="1.1"/>
<line x1="498.38" y1="417.6" x2="498.38" y2="420.8" stroke="#222" stroke-width="1.1"/>
<line x1="437.12" y1="337.5" x2="437.12" y2="310" stroke="#2a2a2a" stroke-width="1.25"/>
<line x1="434.12" y1="310.4" x2="440.12" y2="310.4" stroke="#2a2a2a" stroke-width="1.5"/>
<rect x="431.98" y="338.23" width="10.3" height="79.38" fill="#0a0a0a" stroke="#111" stroke-width="1.45"/>
<line x1="460.38" y1="384.25" x2="460.38" y2="372" stroke="#2a2a2a" stroke-width="1.25"/>
<line x1="457.38" y1="372.4" x2="463.38" y2="372.4" stroke="#2a2a2a" stroke-width="1.5"/>
<rect x="454.88" y="384.98" width="11" height="32.63" fill="url(#h2)" stroke="#111" stroke-width="1.45"/>
<line x1="474.88" y1="387.5" x2="474.88" y2="384.5" stroke="#2a2a2a" stroke-width="1.25"/>
<line x1="471.88" y1="384.9" x2="477.88" y2="384.9" stroke="#2a2a2a" stroke-width="1.5"/>
<rect x="469.62" y="388.23" width="10.5" height="29.38" fill="url(#h2)" stroke="#111" stroke-width="1.45"/>
<line x1="498.38" y1="369.25" x2="498.38" y2="362" stroke="#2a2a2a" stroke-width="1.25"/>
<line x1="495.38" y1="362.4" x2="501.38" y2="362.4" stroke="#2a2a2a" stroke-width="1.5"/>
<rect x="492.88" y="369.98" width="11" height="47.63" fill="#fff" stroke="#111" stroke-width="1.45"/>
<text x="434.5" y="431.5" font-size="9.2" font-weight="bold" fill="#111" text-anchor="middle" textLength="12.5" lengthAdjust="spacingAndGlyphs" stroke="#111" stroke-width="0.25">KO</text>
<text x="460.75" y="431.5" font-size="9.2" font-weight="bold" fill="#111" text-anchor="middle" textLength="5.8" lengthAdjust="spacingAndGlyphs" stroke="#111" stroke-width="0.25">4</text>
<text x="475" y="431.5" font-size="9.2" font-weight="bold" fill="#111" text-anchor="middle" textLength="5.7" lengthAdjust="spacingAndGlyphs" stroke="#111" stroke-width="0.25">9</text>
<text x="498.75" y="431.5" font-size="9.2" font-weight="bold" fill="#111" text-anchor="middle" textLength="16.5" lengthAdjust="spacingAndGlyphs" stroke="#111" stroke-width="0.25">Con</text>
<line x1="425" y1="435.8" x2="443" y2="435.8" stroke="#555" stroke-width="1.4"/>
<line x1="450.75" y1="435.8" x2="483" y2="435.8" stroke="#555" stroke-width="1.4"/>
<text x="417.5" y="447" font-size="9.2" font-weight="bold" fill="#111" textLength="28.75" lengthAdjust="spacingAndGlyphs" stroke="#111" stroke-width="0.25">Donor</text>
<text x="450" y="447" font-size="9.2" font-weight="bold" fill="#111" textLength="42.5" lengthAdjust="spacingAndGlyphs" stroke="#111" stroke-width="0.25">Recipient</text>
<text transform="translate(406.31,350.7) rotate(-90)" x="0" y="0" font-size="9.2" font-weight="bold" fill="#111" text-anchor="middle" stroke="#111" stroke-width="0.25" textLength="114.7" lengthAdjust="spacing">Lymphocytes (x 10³/µl)</text>
<line x1="37.5" y1="600.5" x2="37.5" y2="491.5" stroke="#222" stroke-width="1.3"/>
<line x1="34.5" y1="600" x2="37.5" y2="600" stroke="#222" stroke-width="1.1"/>
<text x="32.9" y="602.88" font-size="8.0" font-weight="bold" fill="#111" text-anchor="end" textLength="17.75" lengthAdjust="spacingAndGlyphs" stroke="#111" stroke-width="0.25">0.00</text>
<line x1="34.5" y1="573" x2="37.5" y2="573" stroke="#222" stroke-width="1.1"/>
<text x="32.9" y="575.88" font-size="8.0" font-weight="bold" fill="#111" text-anchor="end" textLength="17.75" lengthAdjust="spacingAndGlyphs" stroke="#111" stroke-width="0.25">0.01</text>
<line x1="34.5" y1="546" x2="37.5" y2="546" stroke="#222" stroke-width="1.1"/>
<text x="32.9" y="548.88" font-size="8.0" font-weight="bold" fill="#111" text-anchor="end" textLength="17.75" lengthAdjust="spacingAndGlyphs" stroke="#111" stroke-width="0.25">0.02</text>
<line x1="34.5" y1="519" x2="37.5" y2="519" stroke="#222" stroke-width="1.1"/>
<text x="32.9" y="521.88" font-size="8.0" font-weight="bold" fill="#111" text-anchor="end" textLength="17.75" lengthAdjust="spacingAndGlyphs" stroke="#111" stroke-width="0.25">0.03</text>
<line x1="34.5" y1="492" x2="37.5" y2="492" stroke="#222" stroke-width="1.1"/>
<text x="32.9" y="494.88" font-size="8.0" font-weight="bold" fill="#111" text-anchor="end" textLength="17.75" lengthAdjust="spacingAndGlyphs" stroke="#111" stroke-width="0.25">0.04</text>
<line x1="34.3" y1="600" x2="255" y2="600" stroke="#222" stroke-width="1.35"/>
<line x1="56" y1="600" x2="56" y2="603.2" stroke="#222" stroke-width="1.1"/>
<line x1="92.25" y1="600" x2="92.25" y2="603.2" stroke="#222" stroke-width="1.1"/>
<line x1="128.75" y1="600" x2="128.75" y2="603.2" stroke="#222" stroke-width="1.1"/>
<line x1="165.5" y1="600" x2="165.5" y2="603.2" stroke="#222" stroke-width="1.1"/>
<line x1="201.62" y1="600" x2="201.62" y2="603.2" stroke="#222" stroke-width="1.1"/>
<line x1="238" y1="600" x2="238" y2="603.2" stroke="#222" stroke-width="1.1"/>
<line x1="49.75" y1="543" x2="49.75" y2="528.25" stroke="#444" stroke-width="1.0"/>
<line x1="47.25" y1="528.65" x2="52.25" y2="528.65" stroke="#444" stroke-width="1.25"/>
<rect x="44.88" y="543.73" width="9.75" height="56.27" fill="#fff" stroke="#111" stroke-width="1.45"/>
<line x1="62.5" y1="535.5" x2="62.5" y2="509.5" stroke="#444" stroke-width="1.0"/>
<line x1="60" y1="509.9" x2="65" y2="509.9" stroke="#444" stroke-width="1.25"/>
<rect x="57.73" y="536.23" width="9.55" height="63.77" fill="#0a0a0a" stroke="#111" stroke-width="1.45"/>
<line x1="85.88" y1="592" x2="85.88" y2="590" stroke="#444" stroke-width="1.0"/>
<line x1="83.38" y1="590.4" x2="88.38" y2="590.4" stroke="#444" stroke-width="1.25"/>
<rect x="80.88" y="592.73" width="10" height="7.28" fill="#fff" stroke="#111" stroke-width="1.45"/>
<line x1="98.5" y1="591.25" x2="98.5" y2="586.75" stroke="#444" stroke-width="1.0"/>
<line x1="96" y1="587.15" x2="101" y2="587.15" stroke="#444" stroke-width="1.25"/>
<rect x="93.97" y="591.98" width="9.05" height="8.03" fill="#0a0a0a" stroke="#111" stroke-width="1.45"/>
<line x1="122.35" y1="585.6" x2="122.35" y2="580" stroke="#444" stroke-width="1.0"/>
<line x1="119.85" y1="580.4" x2="124.85" y2="580.4" stroke="#444" stroke-width="1.25"/>
<rect x="117.67" y="586.33" width="9.35" height="13.67" fill="#fff" stroke="#111" stroke-width="1.45"/>
<line x1="135.5" y1="593.2" x2="135.5" y2="588" stroke="#444" stroke-width="1.0"/>
<line x1="133" y1="588.4" x2="138" y2="588.4" stroke="#444" stroke-width="1.25"/>
<rect x="130.82" y="593.93" width="9.35" height="6.07" fill="#0a0a0a" stroke="#111" stroke-width="1.45"/>
<line x1="159" y1="525.5" x2="159" y2="501.75" stroke="#444" stroke-width="1.0"/>
<line x1="156.5" y1="502.15" x2="161.5" y2="502.15" stroke="#444" stroke-width="1.25"/>
<rect x="154.12" y="526.23" width="9.75" height="73.78" fill="#fff" stroke="#111" stroke-width="1.45"/>
<line x1="171.88" y1="575" x2="171.88" y2="558.75" stroke="#444" stroke-width="1.0"/>
<line x1="169.38" y1="559.15" x2="174.38" y2="559.15" stroke="#444" stroke-width="1.25"/>
<rect x="167.47" y="575.73" width="8.8" height="24.27" fill="#0a0a0a" stroke="#111" stroke-width="1.45"/>
<line x1="194.88" y1="568.25" x2="194.88" y2="554.5" stroke="#444" stroke-width="1.0"/>
<line x1="192.38" y1="554.9" x2="197.38" y2="554.9" stroke="#444" stroke-width="1.25"/>
<rect x="189.88" y="568.98" width="10" height="31.02" fill="#fff" stroke="#111" stroke-width="1.45"/>
<line x1="208.12" y1="593" x2="208.12" y2="586.25" stroke="#444" stroke-width="1.0"/>
<line x1="205.62" y1="586.65" x2="210.62" y2="586.65" stroke="#444" stroke-width="1.25"/>
<rect x="203.72" y="593.73" width="8.8" height="6.28" fill="#0a0a0a" stroke="#111" stroke-width="1.45"/>
<line x1="231.5" y1="541.75" x2="231.5" y2="522.5" stroke="#444" stroke-width="1.0"/>
<line x1="229" y1="522.9" x2="234" y2="522.9" stroke="#444" stroke-width="1.25"/>
<rect x="226.62" y="542.48" width="9.75" height="57.52" fill="#fff" stroke="#111" stroke-width="1.45"/>
<line x1="244.38" y1="580" x2="244.38" y2="570.5" stroke="#444" stroke-width="1.0"/>
<line x1="241.88" y1="570.9" x2="246.88" y2="570.9" stroke="#444" stroke-width="1.25"/>
<rect x="239.97" y="580.73" width="8.8" height="19.27" fill="#0a0a0a" stroke="#111" stroke-width="1.45"/>
<text x="56.5" y="611.4" font-size="8.0" font-weight="bold" fill="#111" text-anchor="middle" textLength="15.4" lengthAdjust="spacing" stroke="#111" stroke-width="0.25">LKS</text>
<text x="93.1" y="611.4" font-size="8.0" font-weight="bold" fill="#111" text-anchor="middle" textLength="25.2" lengthAdjust="spacing" stroke="#111" stroke-width="0.25">SLAM</text>
<text x="128.9" y="611.4" font-size="8.0" font-weight="bold" fill="#111" text-anchor="middle" textLength="20.8" lengthAdjust="spacing" stroke="#111" stroke-width="0.25">MPP</text>
<text x="164.6" y="611.4" font-size="8.0" font-weight="bold" fill="#111" text-anchor="middle" textLength="20.8" lengthAdjust="spacing" stroke="#111" stroke-width="0.25">CMP</text>
<text x="201.5" y="611.4" font-size="8.0" font-weight="bold" fill="#111" text-anchor="middle" textLength="21.8" lengthAdjust="spacing" stroke="#111" stroke-width="0.25">GMP</text>
<text x="238.5" y="611.4" font-size="8.0" font-weight="bold" fill="#111" text-anchor="middle" textLength="19.7" lengthAdjust="spacing" stroke="#111" stroke-width="0.25">MEP</text>
<text x="77.5" y="624.5" font-size="8.0" font-weight="bold" fill="#111" textLength="147" lengthAdjust="spacing" stroke="#111" stroke-width="0.25">Progenitor Cells in Bone Marrow</text>
<rect x="41.7" y="492.6" width="10.3" height="4.7" fill="#fff" stroke="#222" stroke-width="1"/>
<text x="58.5" y="498" font-size="8.2" font-weight="bold" fill="#111" textLength="16.1" lengthAdjust="spacing" stroke="#111" stroke-width="0.25">Con</text>
<rect x="79.3" y="492.1" width="11.6" height="5.7" fill="#0a0a0a"/>
<text x="97.1" y="498" font-size="8.2" font-weight="bold" fill="#111" textLength="11.6" lengthAdjust="spacing" stroke="#111" stroke-width="0.25">KO</text>
<text transform="translate(8.14,543) rotate(-90)" x="0" y="0" font-size="7.6" font-weight="bold" fill="#111" text-anchor="middle" stroke="#111" stroke-width="0.25" textLength="105" lengthAdjust="spacing">Absolute counts (X 10<tspan font-size="5" dy="-3">6</tspan><tspan dy="3">)</tspan></text>
<line x1="297.5" y1="600" x2="297.5" y2="490.75" stroke="#222" stroke-width="1.3"/>
<line x1="294.5" y1="599.5" x2="297.5" y2="599.5" stroke="#222" stroke-width="1.1"/>
<text x="292.9" y="602.38" font-size="8.0" font-weight="bold" fill="#111" text-anchor="end" textLength="17.75" lengthAdjust="spacingAndGlyphs" stroke="#111" stroke-width="0.25">0.00</text>
<line x1="294.5" y1="577.85" x2="297.5" y2="577.85" stroke="#222" stroke-width="1.1"/>
<text x="292.9" y="580.73" font-size="8.0" font-weight="bold" fill="#111" text-anchor="end" textLength="17.75" lengthAdjust="spacingAndGlyphs" stroke="#111" stroke-width="0.25">0.02</text>
<line x1="294.5" y1="556.2" x2="297.5" y2="556.2" stroke="#222" stroke-width="1.1"/>
<text x="292.9" y="559.08" font-size="8.0" font-weight="bold" fill="#111" text-anchor="end" textLength="17.75" lengthAdjust="spacingAndGlyphs" stroke="#111" stroke-width="0.25">0.04</text>
<line x1="294.5" y1="534.55" x2="297.5" y2="534.55" stroke="#222" stroke-width="1.1"/>
<text x="292.9" y="537.43" font-size="8.0" font-weight="bold" fill="#111" text-anchor="end" textLength="17.75" lengthAdjust="spacingAndGlyphs" stroke="#111" stroke-width="0.25">0.06</text>
<line x1="294.5" y1="512.9" x2="297.5" y2="512.9" stroke="#222" stroke-width="1.1"/>
<text x="292.9" y="515.78" font-size="8.0" font-weight="bold" fill="#111" text-anchor="end" textLength="17.75" lengthAdjust="spacingAndGlyphs" stroke="#111" stroke-width="0.25">0.08</text>
<line x1="294.5" y1="491.25" x2="297.5" y2="491.25" stroke="#222" stroke-width="1.1"/>
<text x="292.9" y="494.13" font-size="8.0" font-weight="bold" fill="#111" text-anchor="end" textLength="17.75" lengthAdjust="spacingAndGlyphs" stroke="#111" stroke-width="0.25">0.10</text>
<line x1="294.3" y1="599.5" x2="516.25" y2="599.5" stroke="#222" stroke-width="1.35"/>
<line x1="315.75" y1="599.5" x2="315.75" y2="602.7" stroke="#222" stroke-width="1.1"/>
<line x1="352" y1="599.5" x2="352" y2="602.7" stroke="#222" stroke-width="1.1"/>
<line x1="388.5" y1="599.5" x2="388.5" y2="602.7" stroke="#222" stroke-width="1.1"/>
<line x1="425.25" y1="599.5" x2="425.25" y2="602.7" stroke="#222" stroke-width="1.1"/>
<line x1="461.25" y1="599.5" x2="461.25" y2="602.7" stroke="#222" stroke-width="1.1"/>
<line x1="498.12" y1="599.5" x2="498.12" y2="602.7" stroke="#222" stroke-width="1.1"/>
<line x1="309.38" y1="575.5" x2="309.38" y2="567.5" stroke="#444" stroke-width="1.0"/>
<line x1="306.88" y1="567.9" x2="311.88" y2="567.9" stroke="#444" stroke-width="1.25"/>
<rect x="304.62" y="576.23" width="9.5" height="23.27" fill="#fff" stroke="#111" stroke-width="1.45"/>
<line x1="322.5" y1="515" x2="322.5" y2="500.5" stroke="#444" stroke-width="1.0"/>
<line x1="320" y1="500.9" x2="325" y2="500.9" stroke="#444" stroke-width="1.25"/>
<rect x="317.73" y="515.73" width="9.55" height="83.78" fill="#0a0a0a" stroke="#111" stroke-width="1.45"/>
<path d="M322.5,490.9L322.5,495.1M320.68,491.95L324.32,494.05M320.68,494.05L324.32,491.95" stroke="#111" stroke-width="1.5" fill="none"/>
<line x1="345.62" y1="590.5" x2="345.62" y2="586.25" stroke="#444" stroke-width="1.0"/>
<line x1="343.12" y1="586.65" x2="348.12" y2="586.65" stroke="#444" stroke-width="1.25"/>
<rect x="340.88" y="591.23" width="9.5" height="8.28" fill="#fff" stroke="#111" stroke-width="1.45"/>
<line x1="358.5" y1="566.25" x2="358.5" y2="559.25" stroke="#444" stroke-width="1.0"/>
<line x1="356" y1="559.65" x2="361" y2="559.65" stroke="#444" stroke-width="1.25"/>
<rect x="353.98" y="566.98" width="9.05" height="32.52" fill="#0a0a0a" stroke="#111" stroke-width="1.45"/>
<path d="M358.5,550.4L358.5,554.6M356.68,551.45L360.32,553.55M356.68,553.55L360.32,551.45" stroke="#111" stroke-width="1.5" fill="none"/>
<rect x="377" y="598.6" width="10.5" height="0.9" fill="#111"/>
<rect x="390.23" y="598.52" width="9.55" height="0.98" fill="#0a0a0a" stroke="#111" stroke-width="1.45"/>
<line x1="418.75" y1="593.25" x2="418.75" y2="590.5" stroke="#444" stroke-width="1.0"/>
<line x1="416.25" y1="590.9" x2="421.25" y2="590.9" stroke="#444" stroke-width="1.25"/>
<rect x="413.62" y="593.98" width="10.25" height="5.53" fill="#fff" stroke="#111" stroke-width="1.45"/>
<line x1="431.62" y1="592" x2="431.62" y2="587" stroke="#444" stroke-width="1.0"/>
<line x1="429.12" y1="587.4" x2="434.12" y2="587.4" stroke="#444" stroke-width="1.25"/>
<rect x="426.98" y="592.73" width="9.3" height="6.78" fill="#0a0a0a" stroke="#111" stroke-width="1.45"/>
<line x1="454.75" y1="597.5" x2="454.75" y2="597" stroke="#444" stroke-width="1.0"/>
<line x1="452.25" y1="597.4" x2="457.25" y2="597.4" stroke="#444" stroke-width="1.25"/>
<rect x="450.23" y="598.23" width="9.05" height="1.27" fill="#fff" stroke="#111" stroke-width="1.45"/>
<rect x="463.23" y="599.02" width="9.05" height="0.48" fill="#0a0a0a" stroke="#111" stroke-width="1.45"/>
<line x1="491.62" y1="578.75" x2="491.62" y2="569.5" stroke="#444" stroke-width="1.0"/>
<line x1="489.12" y1="569.9" x2="494.12" y2="569.9" stroke="#444" stroke-width="1.25"/>
<rect x="486.62" y="579.48" width="10" height="20.02" fill="#fff" stroke="#111" stroke-width="1.45"/>
<line x1="504.62" y1="579.5" x2="504.62" y2="566.25" stroke="#444" stroke-width="1.0"/>
<line x1="502.12" y1="566.65" x2="507.12" y2="566.65" stroke="#444" stroke-width="1.25"/>
<rect x="499.98" y="580.23" width="9.3" height="19.27" fill="#0a0a0a" stroke="#111" stroke-width="1.45"/>
<text x="315.4" y="611.4" font-size="8.0" font-weight="bold" fill="#111" text-anchor="middle" textLength="14.8" lengthAdjust="spacing" stroke="#111" stroke-width="0.25">LKS</text>
<text x="353.7" y="611.4" font-size="8.0" font-weight="bold" fill="#111" text-anchor="middle" textLength="24.7" lengthAdjust="spacing" stroke="#111" stroke-width="0.25">SLAM</text>
<text x="389.4" y="611.4" font-size="8.0" font-weight="bold" fill="#111" text-anchor="middle" textLength="20.1" lengthAdjust="spacing" stroke="#111" stroke-width="0.25">MPP</text>
<text x="424.9" y="611.4" font-size="8.0" font-weight="bold" fill="#111" text-anchor="middle" textLength="20.8" lengthAdjust="spacing" stroke="#111" stroke-width="0.25">CMP</text>
<text x="461.4" y="611.4" font-size="8.0" font-weight="bold" fill="#111" text-anchor="middle" textLength="21.8" lengthAdjust="spacing" stroke="#111" stroke-width="0.25">GMP</text>
<text x="498.6" y="611.4" font-size="8.0" font-weight="bold" fill="#111" text-anchor="middle" textLength="20.1" lengthAdjust="spacing" stroke="#111" stroke-width="0.25">MEP</text>
<text x="350.8" y="624.5" font-size="8.0" font-weight="bold" fill="#111" textLength="114.9" lengthAdjust="spacing" stroke="#111" stroke-width="0.25">Progenitor Cells in Spleen</text>
<rect x="449.75" y="491.75" width="10.25" height="4.75" fill="#fff" stroke="#222" stroke-width="1"/>
<text x="466.25" y="497.2" font-size="8.2" font-weight="bold" fill="#111" textLength="16.75" lengthAdjust="spacing" stroke="#111" stroke-width="0.25">Con</text>
<rect x="488" y="491.25" width="11.5" height="5.75" fill="#0a0a0a"/>
<text x="505" y="497.2" font-size="8.2" font-weight="bold" fill="#111" textLength="12" lengthAdjust="spacing" stroke="#111" stroke-width="0.25">KO</text>
<text transform="translate(268.14,543) rotate(-90)" x="0" y="0" font-size="7.6" font-weight="bold" fill="#111" text-anchor="middle" stroke="#111" stroke-width="0.25" textLength="105" lengthAdjust="spacing">Absolute counts (X 10<tspan font-size="5" dy="-3">6</tspan><tspan dy="3">)</tspan></text>
<text x="65.6" y="690.6" font-size="8.1" font-weight="bold" fill="#111" textLength="37.8" lengthAdjust="spacingAndGlyphs" stroke="#111" stroke-width="0.25">Control or</text>
<text x="63.7" y="701.9" font-size="8.1" font-weight="bold" fill="#111" textLength="43.8" lengthAdjust="spacingAndGlyphs" stroke="#111" stroke-width="0.25">OCY-Gs<tspan font-weight="normal">α</tspan>KO</text>
<line x1="83.8" y1="706" x2="83.8" y2="727.5" stroke="#777" stroke-width="1.1"/>
<path d="M80.6,726.5 L83.8,731.5 L87,726.5 Z" fill="#777"/>
<text x="46.1" y="740.4" font-size="8.1" font-weight="bold" fill="#111" textLength="59.6" lengthAdjust="spacingAndGlyphs" stroke="#111" stroke-width="0.25">20,000 BM Cells</text>
<text x="112.7" y="740.4" font-size="8.1" font-weight="bold" fill="#111" textLength="11.2" lengthAdjust="spacingAndGlyphs" stroke="#111" stroke-width="0.25">OR</text>
<text x="46.1" y="752.4" font-size="8.1" font-weight="bold" fill="#111" textLength="78.3" lengthAdjust="spacingAndGlyphs" stroke="#111" stroke-width="0.25">100,000 Spleen Cells</text>
<line x1="134.3" y1="745.3" x2="142.1" y2="745.3" stroke="#222" stroke-width="1.6"/>
<line x1="138.2" y1="741.4" x2="138.2" y2="749.2" stroke="#222" stroke-width="1.6"/>
<text x="149.9" y="735.7" font-size="8.1" font-weight="bold" fill="#111" textLength="60" lengthAdjust="spacingAndGlyphs" stroke="#111" stroke-width="0.25">Methylcellulose</text>
<text x="159.8" y="746.6" font-size="8.1" font-weight="bold" fill="#111" textLength="42.5" lengthAdjust="spacingAndGlyphs" stroke="#111" stroke-width="0.25">Media with</text>
<text x="143" y="757" font-size="8.1" font-weight="normal" fill="#222" textLength="72.1" lengthAdjust="spacingAndGlyphs" font-style="italic" stroke="#222" stroke-width="0.15">(SCF, IL-3, IL-6, Epo)</text>
<text x="227.1" y="735.7" font-size="8.1" font-weight="bold" fill="#111" textLength="28.6" lengthAdjust="spacingAndGlyphs" stroke="#111" stroke-width="0.25">10 days</text>
<line x1="218.1" y1="741.8" x2="260" y2="741.8" stroke="#777" stroke-width="1.2"/>
<path d="M258.3,739.4 L263.8,741.8 L258.3,744.2 Z" fill="#777"/>
<text x="273" y="739.7" font-size="8.1" font-weight="bold" fill="#111" textLength="22.4" lengthAdjust="spacingAndGlyphs" stroke="#111" stroke-width="0.25">Count</text>
<text x="269" y="751" font-size="8.1" font-weight="bold" fill="#111" textLength="32" lengthAdjust="spacingAndGlyphs" stroke="#111" stroke-width="0.25">Colonies</text>
<line x1="354.2" y1="773.6" x2="354.2" y2="665.5" stroke="#222" stroke-width="1.3"/>
<line x1="351.2" y1="773.1" x2="354.2" y2="773.1" stroke="#222" stroke-width="1.1"/>
<text x="350.3" y="776.2" font-size="8.6" font-weight="bold" fill="#111" text-anchor="end" textLength="5.1" lengthAdjust="spacingAndGlyphs" stroke="#111" stroke-width="0.25">0</text>
<line x1="351.2" y1="737.4" x2="354.2" y2="737.4" stroke="#222" stroke-width="1.1"/>
<text x="350.3" y="740.5" font-size="8.6" font-weight="bold" fill="#111" text-anchor="end" textLength="10.2" lengthAdjust="spacingAndGlyphs" stroke="#111" stroke-width="0.25">50</text>
<line x1="351.2" y1="701.7" x2="354.2" y2="701.7" stroke="#222" stroke-width="1.1"/>
<text x="350.3" y="704.8" font-size="8.6" font-weight="bold" fill="#111" text-anchor="end" textLength="15.3" lengthAdjust="spacingAndGlyphs" stroke="#111" stroke-width="0.25">100</text>
<line x1="351.2" y1="666" x2="354.2" y2="666" stroke="#222" stroke-width="1.1"/>
<text x="350.3" y="669.1" font-size="8.6" font-weight="bold" fill="#111" text-anchor="end" textLength="15.3" lengthAdjust="spacingAndGlyphs" stroke="#111" stroke-width="0.25">150</text>
<line x1="351" y1="773.1" x2="407.5" y2="773.1" stroke="#222" stroke-width="1.35"/>
<line x1="367.4" y1="773.1" x2="367.4" y2="776.3" stroke="#222" stroke-width="1.1"/>
<line x1="394.55" y1="773.1" x2="394.55" y2="776.3" stroke="#222" stroke-width="1.1"/>
<line x1="367.4" y1="684.6" x2="367.4" y2="675.6" stroke="#2a2a2a" stroke-width="1.25"/>
<line x1="363.9" y1="676" x2="370.9" y2="676" stroke="#2a2a2a" stroke-width="1.5"/>
<rect x="358.88" y="685.33" width="17.05" height="87.78" fill="#fff" stroke="#111" stroke-width="1.45"/>
<rect x="386.12" y="690.33" width="16.85" height="82.78" fill="#0a0a0a" stroke="#111" stroke-width="1.45"/>
<text x="369.6" y="785.5" font-size="8.2" font-weight="bold" fill="#111" text-anchor="middle" textLength="17.5" lengthAdjust="spacing" stroke="#111" stroke-width="0.25">Con</text>
<text x="395.6" y="785.5" font-size="8.2" font-weight="bold" fill="#111" text-anchor="middle" textLength="12" lengthAdjust="spacing" stroke="#111" stroke-width="0.25">KO</text>
<text transform="translate(333.58,718.3) rotate(-90)" x="0" y="0" font-size="8.0" font-weight="bold" fill="#111" text-anchor="middle" stroke="#111" stroke-width="0.25" textLength="89" lengthAdjust="spacing">BM Myeloid Colonies</text>
<line x1="444.3" y1="773.8" x2="444.3" y2="665.75" stroke="#222" stroke-width="1.3"/>
<line x1="441.3" y1="773.3" x2="444.3" y2="773.3" stroke="#222" stroke-width="1.1"/>
<text x="440.4" y="776.4" font-size="8.6" font-weight="bold" fill="#111" text-anchor="end" textLength="5.1" lengthAdjust="spacingAndGlyphs" stroke="#111" stroke-width="0.25">0</text>
<line x1="441.3" y1="746.54" x2="444.3" y2="746.54" stroke="#222" stroke-width="1.1"/>
<text x="440.4" y="749.63" font-size="8.6" font-weight="bold" fill="#111" text-anchor="end" textLength="10.2" lengthAdjust="spacingAndGlyphs" stroke="#111" stroke-width="0.25">50</text>
<line x1="441.3" y1="719.77" x2="444.3" y2="719.77" stroke="#222" stroke-width="1.1"/>
<text x="440.4" y="722.87" font-size="8.6" font-weight="bold" fill="#111" text-anchor="end" textLength="15.3" lengthAdjust="spacingAndGlyphs" stroke="#111" stroke-width="0.25">100</text>
<line x1="441.3" y1="693.01" x2="444.3" y2="693.01" stroke="#222" stroke-width="1.1"/>
<text x="440.4" y="696.11" font-size="8.6" font-weight="bold" fill="#111" text-anchor="end" textLength="15.3" lengthAdjust="spacingAndGlyphs" stroke="#111" stroke-width="0.25">150</text>
<line x1="441.3" y1="666.25" x2="444.3" y2="666.25" stroke="#222" stroke-width="1.1"/>
<text x="440.4" y="669.35" font-size="8.6" font-weight="bold" fill="#111" text-anchor="end" textLength="15.3" lengthAdjust="spacingAndGlyphs" stroke="#111" stroke-width="0.25">200</text>
<line x1="441.1" y1="773.3" x2="498.8" y2="773.3" stroke="#222" stroke-width="1.35"/>
<line x1="458.6" y1="773.3" x2="458.6" y2="776.5" stroke="#222" stroke-width="1.1"/>
<line x1="485.1" y1="773.3" x2="485.1" y2="776.5" stroke="#222" stroke-width="1.1"/>
<line x1="458.6" y1="743.6" x2="458.6" y2="741.4" stroke="#2a2a2a" stroke-width="1.25"/>
<line x1="455.1" y1="741.8" x2="462.1" y2="741.8" stroke="#2a2a2a" stroke-width="1.5"/>
<rect x="449.68" y="744.33" width="17.85" height="28.97" fill="#fff" stroke="#111" stroke-width="1.45"/>
<line x1="485.1" y1="696.5" x2="485.1" y2="681.4" stroke="#2a2a2a" stroke-width="1.25"/>
<line x1="481.6" y1="681.8" x2="488.6" y2="681.8" stroke="#2a2a2a" stroke-width="1.5"/>
<rect x="476.73" y="697.23" width="16.75" height="76.07" fill="#0a0a0a" stroke="#111" stroke-width="1.45"/>
<path d="M485.1,673.4L485.1,678M483.11,674.55L487.09,676.85M483.11,676.85L487.09,674.55" stroke="#111" stroke-width="1.5" fill="none"/>
<text x="459.8" y="785.5" font-size="8.2" font-weight="bold" fill="#111" text-anchor="middle" textLength="17.5" lengthAdjust="spacing" stroke="#111" stroke-width="0.25">Con</text>
<text x="486.3" y="785.5" font-size="8.2" font-weight="bold" fill="#111" text-anchor="middle" textLength="12" lengthAdjust="spacing" stroke="#111" stroke-width="0.25">KO</text>
<text transform="translate(423.88,720.8) rotate(-90)" x="0" y="0" font-size="8.0" font-weight="bold" fill="#111" text-anchor="middle" stroke="#111" stroke-width="0.25" textLength="101" lengthAdjust="spacing">Spleen Myeloid Colonies</text>
</svg></body></html>
